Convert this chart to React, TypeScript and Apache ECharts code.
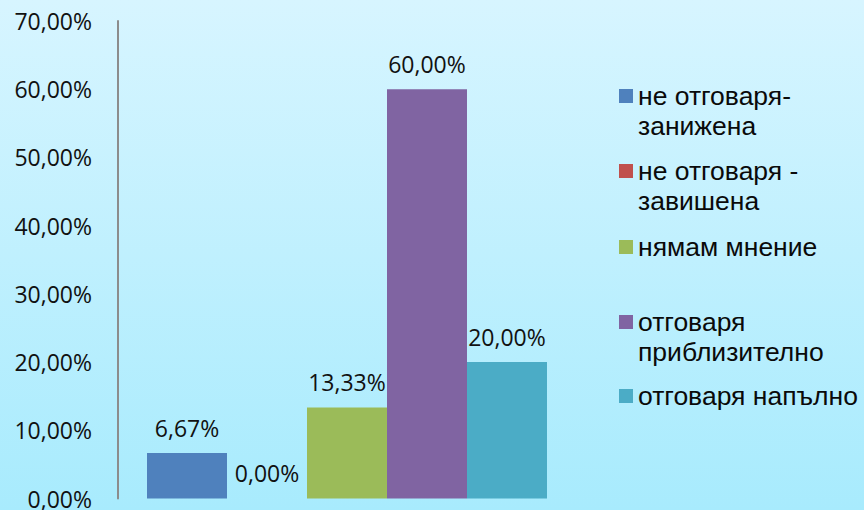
import React, { useEffect, useRef } from "react";
import * as echarts from "echarts";

const categories = [""];
const seriesNames = [
  "не отговаря-\nзанижена",
  "не отговаря -\nзавишена",
  "нямам мнение",
  "отговаря\nприблизително",
  "отговаря напълно",
];
const seriesValues = [6.67, 0.0, 13.33, 60.0, 20.0];
const seriesColors = ["#4F81BD", "#C0504D", "#9BBB59", "#8064A2", "#4BACC6"];
const yTicks = { min: 0, max: 70, interval: 10 };
const legendIconTops = [89, 164, 240, 315, 389];

const fmt = (v: number) => v.toFixed(2).replace(".", ",") + "%";

export default function App() {
  const ref = useRef<HTMLDivElement>(null);
  useEffect(() => {
    if (!ref.current) return;
    const chart = echarts.init(ref.current, null, { renderer: "svg" });
    const LH = 30;
    const IS = 14;
    const legends = seriesNames.map((name, i) => {
      const multi = name.includes("\n");
      return {
        data: [name],
        orient: "vertical",
        left: 619,
        top: legendIconTops[i] + IS / 2 - (multi ? 1.5 : 0.5) * LH,
        padding: 0,
        itemWidth: IS,
        itemHeight: IS,
        itemGap: 0,
        icon: "rect",
        selectedMode: false,
        formatter: (n: string) => (n.includes("\n") ? " \n" + n : n),
        textStyle: {
          fontFamily: "Liberation Sans",
          fontSize: 26.5,
          color: "#0a0a0a",
          lineHeight: LH,
        },
      };
    });
    chart.setOption({
      animation: false,
      backgroundColor: "transparent",
      grid: { left: 118, top: 21, bottom: 11, right: 288, containLabel: false },
      legend: legends,
      xAxis: {
        type: "category",
        data: categories,
        show: false,
      },
      yAxis: {
        type: "value",
        min: yTicks.min,
        max: yTicks.max,
        interval: yTicks.interval,
        axisLine: { show: true, lineStyle: { color: "#8c8c8c", width: 2 } },
        axisTick: { show: false },
        splitLine: { show: false },
        axisLabel: {
          formatter: (v: number) => fmt(v),
          fontFamily: "Open Sans",
          fontSize: 23,
          color: "#111",
          margin: 26,
        },
      },
      series: seriesNames.map((name, i) => ({
        name,
        type: "bar",
        data: [seriesValues[i]],
        barWidth: 80,
        barGap: "0%",
        itemStyle: { color: seriesColors[i] },
        label: {
          show: true,
          position: "top",
          distance: 14,
          formatter: (p: any) => fmt(p.value),
          fontFamily: "Open Sans",
          fontSize: 23,
          color: "#111",
        },
      })),
    });
    return () => chart.dispose();
  }, []);
  return (
    <div
      ref={ref}
      style={{
        position: "absolute",
        left: 0,
        top: 0,
        width: 864,
        height: 510,
        background: "linear-gradient(to bottom, #d7f5ff, #a8ebfd)",
      }}
    />
  );
}
